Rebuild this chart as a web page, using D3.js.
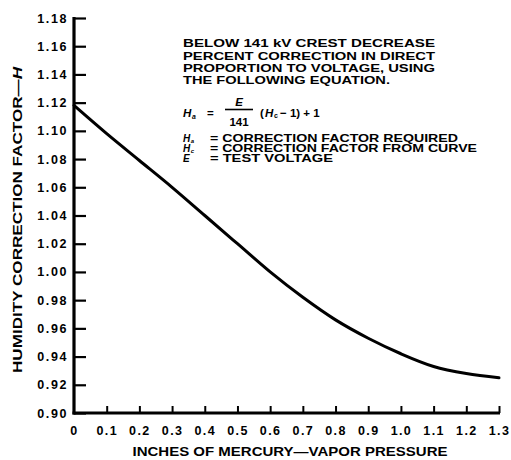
<!DOCTYPE html>
<html>
<head>
<meta charset="utf-8">
<script src="https://cdn.jsdelivr.net/npm/d3@7"></script>
<style>
  html, body { margin: 0; padding: 0; background: #fff; }
  svg { display: block; }
  text { font-family: "Liberation Sans", Arial, sans-serif; font-weight: bold; fill: #000; }
</style>
</head>
<body>
<svg id="chart" width="511" height="460"></svg>
<script>
// ---- data ----
const vaporPressure = [0, 0.1, 0.2, 0.3, 0.4, 0.5, 0.6, 0.7, 0.8, 0.9, 1.0, 1.1, 1.2, 1.3];
const correctionFactor = [1.118, 1.098, 1.079, 1.060, 1.040, 1.020, 1.000, 0.982, 0.966, 0.953, 0.942, 0.933, 0.928, 0.925];
const xTicks = [0, 0.1, 0.2, 0.3, 0.4, 0.5, 0.6, 0.7, 0.8, 0.9, 1.0, 1.1, 1.2, 1.3];
const xTickLabels = ["0", "0.1", "0.2", "0.3", "0.4", "0.5", "0.6", "0.7", "0.8", "0.9", "1.0", "1.1", "1.2", "1.3"];
const yTicks = [0.90, 0.92, 0.94, 0.96, 0.98, 1.00, 1.02, 1.04, 1.06, 1.08, 1.10, 1.12, 1.14, 1.16, 1.18];
const noteLines = ["BELOW 141 kV CREST DECREASE", "PERCENT CORRECTION IN DIRECT", "PROPORTION TO VOLTAGE, USING", "THE FOLLOWING EQUATION."];
const xTitle = "INCHES OF MERCURY\u2014VAPOR PRESSURE";
const yTitle = "HUMIDITY CORRECTION FACTOR\u2014";

const svg = d3.select("#chart");
const x = d3.scaleLinear().domain([0, 1.3]).range([74, 499]);
const y = d3.scaleLinear().domain([0.90, 1.18]).range([413, 18]);

// Y axis
const yAxis = svg.append("g").attr("transform", `translate(${x(0)},0)`)
  .call(d3.axisLeft(y).tickValues(yTicks).tickSize(-12).tickPadding(6).tickFormat(d3.format(".2f")));
yAxis.select(".domain").remove();
yAxis.selectAll(".tick line").attr("stroke", "#000").attr("stroke-width", 2.2);
yAxis.selectAll(".tick text").attr("font-size", 12.5).attr("letter-spacing", "1.6px")
  .style("font-family", "Liberation Sans, Arial, sans-serif").style("font-weight", "bold");

// X axis
const xAxis = svg.append("g").attr("transform", `translate(0,${y(0.90)})`)
  .call(d3.axisBottom(x).tickValues(xTicks).tickSize(-7).tickPadding(13).tickFormat((d, i) => xTickLabels[i]));
xAxis.select(".domain").remove();
xAxis.selectAll(".tick line").attr("stroke", "#000").attr("stroke-width", 2);
xAxis.selectAll(".tick").filter(d => d === 0).select("line").remove();
xAxis.selectAll(".tick text").attr("font-size", 12.5).attr("letter-spacing", "1.4px")
  .style("font-family", "Liberation Sans, Arial, sans-serif").style("font-weight", "bold");

// axis lines
svg.append("line").attr("x1", x(0)).attr("x2", x(0)).attr("y1", y(1.18) - 1).attr("y2", y(0.90) + 1.5)
  .attr("stroke", "#000").attr("stroke-width", 3.2);
svg.append("line").attr("x1", x(0) - 1.5).attr("x2", x(1.3) + 1).attr("y1", y(0.90)).attr("y2", y(0.90))
  .attr("stroke", "#000").attr("stroke-width", 3);

// curve
const line = d3.line().x((d, i) => x(vaporPressure[i])).y(d => y(d)).curve(d3.curveMonotoneX);
svg.append("path").datum(correctionFactor).attr("d", line)
  .attr("fill", "none").attr("stroke", "#000").attr("stroke-width", 3).attr("stroke-linecap", "round");

// titles
svg.append("text").attr("x", 290).attr("y", 456).attr("text-anchor", "middle").attr("font-size", 12)
  .attr("textLength", 315).attr("lengthAdjust", "spacingAndGlyphs").text(xTitle);

const yt = svg.append("text").attr("transform", "translate(22,220) rotate(-90)")
  .attr("text-anchor", "middle").attr("font-size", 12)
  .attr("textLength", 306).attr("lengthAdjust", "spacingAndGlyphs");
yt.append("tspan").text(yTitle);
yt.append("tspan").attr("font-style", "italic").text("H");

// note block
const noteX = 183;
const noteBase = [47, 59.5, 71.5, 84];
const noteLen = [252, 252, 252, 207];
noteLines.forEach((t, i) => {
  svg.append("text").attr("x", noteX).attr("y", noteBase[i]).attr("font-size", 11.5)
    .attr("textLength", noteLen[i]).attr("lengthAdjust", "spacingAndGlyphs").text(t);
});

// equation
const eq = svg.append("g");
function hSym(g, xx, yy, sub, fs) {
  g.append("text").attr("x", xx).attr("y", yy).attr("font-size", fs).attr("font-style", "italic").text("H");
  g.append("text").attr("x", xx + fs * 0.78).attr("y", yy + 1.5).attr("font-size", fs * 0.6).attr("font-style", "italic").text(sub);
}
hSym(eq, noteX, 117, "a", 11.5);
eq.append("text").attr("x", 207).attr("y", 117).attr("font-size", 11.5).text("=");
eq.append("text").attr("x", 239).attr("y", 106).attr("text-anchor", "middle").attr("font-size", 11.5).attr("font-style", "italic").text("E");
eq.append("line").attr("x1", 225).attr("x2", 253).attr("y1", 109.5).attr("y2", 109.5).attr("stroke", "#000").attr("stroke-width", 1.6);
eq.append("text").attr("x", 239).attr("y", 126).attr("text-anchor", "middle").attr("font-size", 11.5).text("141");
eq.append("text").attr("x", 260).attr("y", 117).attr("font-size", 11.5).text("(");
eq.append("text").attr("x", 265).attr("y", 117).attr("font-size", 11.5).attr("font-style", "italic").text("H");
eq.append("text").attr("x", 274).attr("y", 118).attr("font-size", 7).text("c");
eq.append("text").attr("x", 280).attr("y", 117).attr("font-size", 11.5).text("\u2212 1) + 1");

// definitions
const defs = [
  { sym: "H", sub: "a", txt: "= CORRECTION FACTOR REQUIRED", base: 141.5, len: 248 },
  { sym: "H", sub: "c", txt: "= CORRECTION FACTOR FROM CURVE", base: 151.5, len: 267 },
  { sym: "E", sub: "", txt: "= TEST VOLTAGE", base: 161.5, len: 123 }
];
defs.forEach(d => {
  if (d.sub) hSym(eq, noteX, d.base, d.sub, 10);
  else eq.append("text").attr("x", noteX).attr("y", d.base).attr("font-size", 10).attr("font-style", "italic").text(d.sym);
  eq.append("text").attr("x", 210).attr("y", d.base).attr("font-size", 10)
    .attr("textLength", d.len).attr("lengthAdjust", "spacingAndGlyphs").text(d.txt);
});
</script>
</body>
</html>
